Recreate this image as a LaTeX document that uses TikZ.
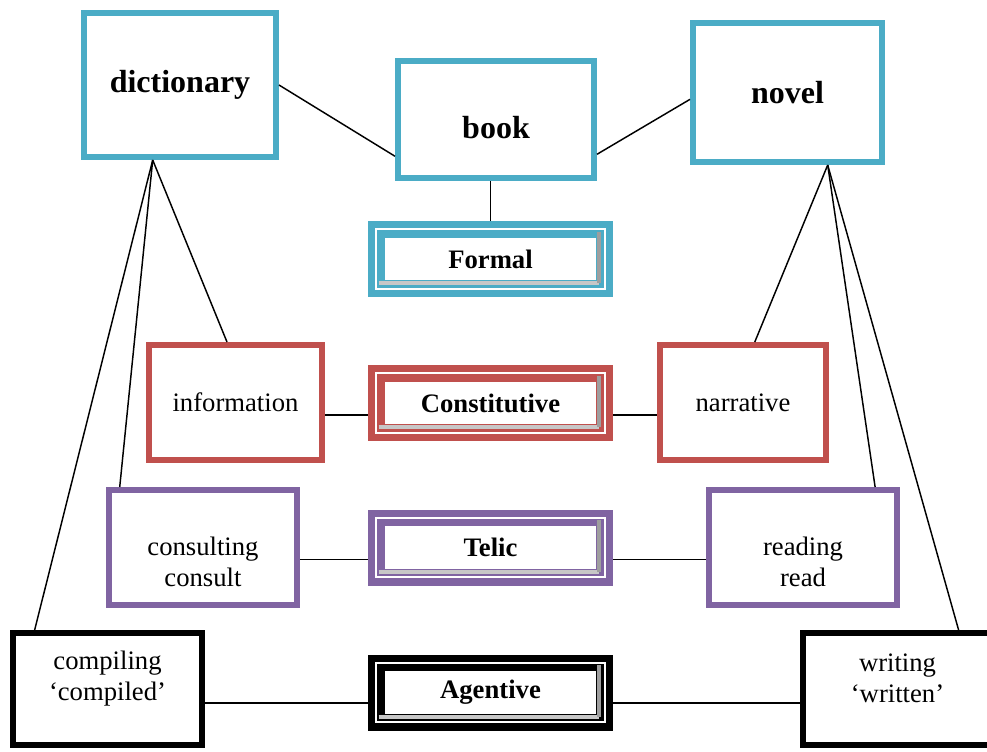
\documentclass[tikz,border=0pt]{standalone}
\usepackage{fontspec}
\setmainfont{Liberation Serif}
\usetikzlibrary{positioning}
\definecolor{qblue}{HTML}{4BACC6}
\definecolor{qred}{HTML}{C0504D}
\definecolor{qpurple}{HTML}{8064A2}
\tikzset{
        boxnode/.style={rectangle, align=center, inner sep=0pt, fill=white, font=\fontsize{20}{23.5}\selectfont},
        % Word boxes
        node_word/.style={boxnode, draw=qblue, line width=4.5pt, font=\bfseries\fontsize{24}{28}\selectfont},
        % Value boxes
        node_value/.style={boxnode, draw=#1, line width=4.5pt, minimum height=86.25pt},
        % Qualia role boxes
        node_role/.style={boxnode, draw=#1, line width=5.5pt, double=white, double distance=1.5pt, outer sep=6.25pt, minimum width=171.25pt, minimum height=44.5pt, font=\bfseries\fontsize{20}{24}\selectfont},
        % Texts set as labels
        word_text/.style={font=\bfseries\fontsize{24}{28}\selectfont},
        value_text/.style={align=center, font=\fontsize{20}{23.5}\selectfont},
        % Bevel shades
        shade_bottom/.style={draw=black!22, line width=3pt},
        shade_right/.style={draw=black!38, line width=3pt}
}
\begin{document}
\begin{tikzpicture}[x=0.75pt, y=-0.75pt, line width=1.1pt]
    \useasboundingbox (0,0) rectangle (987,751);
    % words
    \node[node_word, minimum width=144pt, minimum height=108pt] (dictionary) at (180,85) {dictionary};
    \node[node_word, minimum width=147pt, minimum height=87.75pt, label={[word_text, yshift=-6pt]center:book}] (book) at (496,119.5) {};
    \node[node_word, minimum width=141.75pt, minimum height=104.25pt] (novel) at (787.5,92.5) {novel};
    % qualia roles
    \node[node_role=qblue] (formal) at (490.5,259) {Formal};
    \node[node_role=qred] (constitutive) at (490.5,403) {Constitutive};
    \node[node_role=qpurple] (telic) at (490.5,547.5) {Telic};
    \node[node_role=black] (agentive) at (490.5,692.5) {Agentive};
    \foreach \r in {formal, constitutive, telic, agentive} {
        \draw[shade_bottom] ([shift={(8pt,10.5pt)}]\r.south west) -- ([shift={(-10.5pt,10.5pt)}]\r.south east);
        \draw[shade_right] ([shift={(-10.5pt,10.5pt)}]\r.south east) -- ([shift={(-10.5pt,-8pt)}]\r.north east);
    }
    % values
    \node[node_value=qred, minimum width=129.75pt] (information) at (235.5,402.5) {information};
    \node[node_value=qred, minimum width=124.5pt] (narrative) at (743,402.5) {narrative};
    \node[node_value=qpurple, minimum width=141pt, label={[value_text, yshift=-11pt]center:consulting\\consult}] (consulting) at (203,547.5) {};
    \node[node_value=qpurple, minimum width=141pt, label={[value_text, yshift=-11pt]center:reading\\read}] (reading) at (803,547.5) {};
    \node[node_value=black, minimum width=141.75pt, minimum height=84pt, label={[value_text, yshift=8pt]center:compiling\\‘compiled’}] (compiling) at (107.5,689) {};
    \node[node_value=black, minimum width=141.75pt, minimum height=84pt, label={[value_text, yshift=8pt]center:writing\\‘written’}] (writing) at (897.5,689) {};
    % connectors
    \draw (dictionary.east) -- (book.200);
    \draw (novel.184) -- (book.-19);
    \draw (formal.north) -- (formal.north |- book.south);
    \draw (dictionary.250) -- (information.98);
    \draw (dictionary.250) -- (consulting.144);
    \draw (dictionary.250) -- (compiling.141);
    \draw (novel.-61) -- (narrative.79);
    \draw (novel.-61) -- (reading.40);
    \draw (novel.-61) -- (writing.44);
    \draw ([yshift=-9pt]constitutive.west -| information.east) -- ([yshift=-9pt]constitutive.west);
    \draw ([yshift=-9pt]constitutive.east) -- ([yshift=-9pt]constitutive.east -| narrative.west);
    \draw ([yshift=-9pt]telic.west -| consulting.east) -- ([yshift=-9pt]telic.west);
    \draw ([yshift=-9pt]telic.east) -- ([yshift=-9pt]telic.east -| reading.west);
    \draw ([yshift=-8pt]agentive.west -| compiling.east) -- ([yshift=-8pt]agentive.west);
    \draw ([yshift=-8pt]agentive.east) -- ([yshift=-8pt]agentive.east -| writing.west);
\end{tikzpicture}
\end{document}
